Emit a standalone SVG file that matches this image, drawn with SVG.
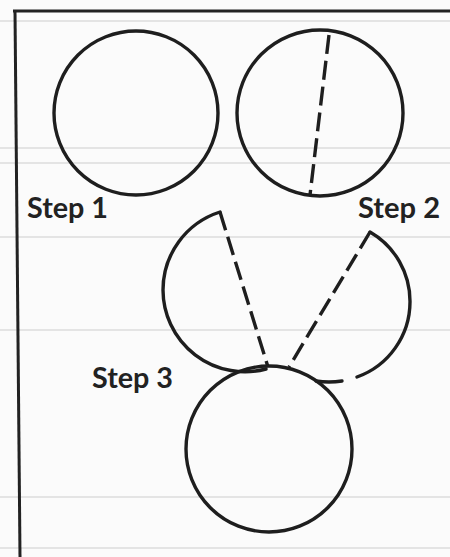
<svg xmlns="http://www.w3.org/2000/svg" width="450" height="557" viewBox="0 0 450 557">
<style>
.ln{fill:none;stroke:#1e1e1e;stroke-width:3.4;stroke-linecap:round}
.ds{fill:none;stroke:#1e1e1e;stroke-width:3.4;stroke-dasharray:19 7}
.scan{stroke:#cdcdcd;stroke-width:1}
.lbl{font-family:Lato,"Open Sans","DejaVu Sans",sans-serif;font-weight:700;font-size:29px;fill:#222}
</style>
<rect width="450" height="557" fill="#fbfbfb"/>
<g id="background">
<line class="scan" x1="0" y1="21" x2="450" y2="21" stroke-width="2"/>
<line class="scan" x1="0" y1="148" x2="450" y2="148"/>
<line class="scan" x1="0" y1="163" x2="450" y2="163"/>
<line class="scan" x1="0" y1="237" x2="450" y2="237" stroke="#858585" stroke-width="3"/>
<line class="scan" x1="0" y1="330" x2="450" y2="330"/>
<line class="scan" x1="0" y1="497" x2="450" y2="497"/>
<line class="scan" x1="0" y1="548" x2="450" y2="548"/>
<line x1="13" y1="11" x2="450" y2="11" stroke="#222" stroke-width="3"/>
<line x1="15" y1="11" x2="20" y2="557" stroke="#222" stroke-width="3"/>
</g>
<g id="step1">
<circle class="ln" cx="136" cy="113" r="82"/>
<text class="lbl" x="27" y="218" textLength="81" lengthAdjust="spacingAndGlyphs">Step 1</text>
</g>
<g id="step2">
<circle class="ln" cx="320" cy="113" r="83"/>
<line class="ds" x1="329" y1="35" x2="310" y2="195"/>
<text class="lbl" x="358" y="218" textLength="82" lengthAdjust="spacingAndGlyphs">Step 2</text>
</g>
<g id="step3">
<path class="ln" d="M220,212 A82,82 0 0,0 163,290 A82,82 0 0,0 266,369"/>
<line class="ds" x1="220" y1="212" x2="268" y2="367"/>
<path class="ln" d="M370,232 A80,80 0 0,1 410,302 A80,80 0 0,1 357,377"/>
<path class="ln" d="M342,381 A80,80 0 0,1 316,381"/>
<line class="ds" x1="370" y1="232" x2="289" y2="367"/>
<circle class="ln" cx="269" cy="449" r="83"/>
<text class="lbl" x="92" y="388" textLength="81" lengthAdjust="spacingAndGlyphs">Step 3</text>
</g>
</svg>
